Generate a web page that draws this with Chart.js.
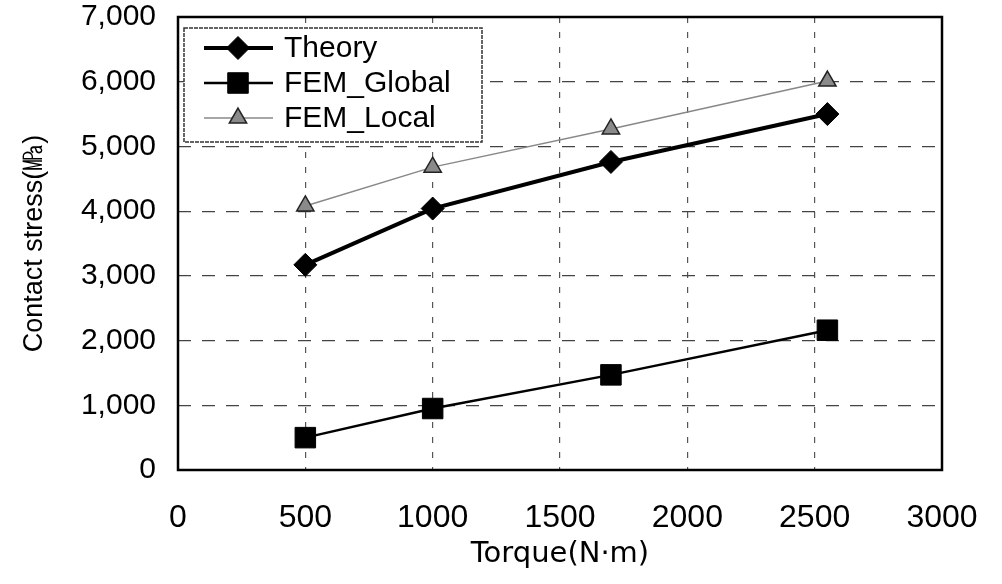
<!DOCTYPE html>
<html>
<head>
<meta charset="utf-8">
<script src="https://cdn.jsdelivr.net/npm/chart.js@4"></script>
<style>
  html, body { margin: 0; padding: 0; background: #fff; }
  #wrap { width: 1002px; height: 584px; }
</style>
</head>
<body>
<div id="wrap"><canvas id="stress-chart" width="1002" height="584"></canvas></div>
<script>
// data
const torque = [500, 1000, 1700, 2550];
const theory = [3170, 4040, 4760, 5500];
const femGlobal = [500, 950, 1470, 2160];
const femLocal = [4080, 4680, 5270, 6010];

const seriesNames = ['Theory', 'FEM_Global', 'FEM_Local'];
const xTickLabels = ['0', '500', '1000', '1500', '2000', '2500', '3000'];
const yTickLabels = ['0', '1,000', '2,000', '3,000', '4,000', '5,000', '6,000', '7,000'];

const toPoints = (ys) => torque.map((x, i) => ({ x: x, y: ys[i] }));

// frame round the plot area + boxed legend inside it
const frameAndLegend = {
    id: 'frameAndLegend',
    afterDraw(chart) {
        const { ctx, chartArea } = chart;
        ctx.save();
        ctx.strokeStyle = '#000';
        ctx.lineWidth = 2.5;
        ctx.setLineDash([]);
        ctx.strokeRect(chartArea.left, chartArea.top, chartArea.right - chartArea.left, chartArea.bottom - chartArea.top);

        const x0 = chartArea.left + 6;
        const y0 = chartArea.top + 11;
        ctx.fillStyle = '#fff';
        ctx.fillRect(x0, y0, 298, 114);
        ctx.strokeStyle = '#333';
        ctx.lineWidth = 1.5;
        ctx.setLineDash([4, 1]);
        ctx.strokeRect(x0, y0, 298, 114);
        ctx.setLineDash([]);

        chart.data.datasets.forEach((ds, i) => {
            const y = y0 + 20 + i * 35;
            ctx.strokeStyle = ds.borderColor;
            ctx.lineWidth = ds.borderWidth;
            ctx.beginPath();
            ctx.moveTo(x0 + 20, y);
            ctx.lineTo(x0 + 89, y);
            ctx.stroke();
            ctx.fillStyle = ds.pointBackgroundColor;
            ctx.strokeStyle = ds.pointBorderColor;
            ctx.lineWidth = ds.pointBorderWidth;
            Chart.helpers.drawPoint(ctx, {
                pointStyle: ds.pointStyle,
                radius: ds.pointRadius,
                borderWidth: ds.pointBorderWidth,
                rotation: 0
            }, x0 + 54, y);
            ctx.fillStyle = '#000';
            ctx.font = '30px "Liberation Sans", Arial, sans-serif';
            ctx.textBaseline = 'middle';
            ctx.textAlign = 'left';
            ctx.fillText(ds.label, x0 + 100, y + 1);
        });
        ctx.restore();
    }
};

new Chart(document.getElementById('stress-chart'), {
    type: 'line',
    data: {
        datasets: [{
            label: seriesNames[0],
            data: toPoints(theory),
            borderColor: '#000',
            borderWidth: 4,
            pointStyle: 'rectRot',
            pointRadius: 11.5,
            pointBackgroundColor: '#000',
            pointBorderColor: '#000',
            pointBorderWidth: 1,
            tension: 0
        }, {
            label: seriesNames[1],
            data: toPoints(femGlobal),
            borderColor: '#000',
            borderWidth: 2.5,
            pointStyle: 'rect',
            pointRadius: 14.5,
            pointBackgroundColor: '#000',
            pointBorderColor: '#000',
            pointBorderWidth: 1,
            tension: 0
        }, {
            label: seriesNames[2],
            data: toPoints(femLocal),
            borderColor: '#888',
            borderWidth: 1.5,
            pointStyle: 'triangle',
            pointRadius: 10,
            pointBackgroundColor: '#8a8a8a',
            pointBorderColor: '#222',
            pointBorderWidth: 1.5,
            tension: 0
        }]
    },
    options: {
        responsive: false,
        devicePixelRatio: 1,
        animation: false,
        layout: {
            padding: { top: 17, right: 60, left: 0, bottom: 0 }
        },
        plugins: {
            legend: { display: false },
            tooltip: { enabled: false }
        },
        scales: {
            x: {
                type: 'linear',
                min: 0,
                max: 3000,
                afterFit: (scale) => {
                    scale.height = 114;
                    scale.paddingLeft = 0;
                    scale.paddingRight = 0;
                },
                ticks: {
                    stepSize: 500,
                    padding: 29,
                    color: '#000',
                    font: { family: '"Liberation Sans", Arial, sans-serif', size: 32 },
                    maxRotation: 0,
                    callback: (value, index) => xTickLabels[index]
                },
                grid: {
                    color: '#555',
                    lineWidth: 1.2,
                    drawTicks: false
                },
                border: { display: false, dash: [6, 9] },
                title: {
                    display: true,
                    text: 'Torque(N·m)',
                    color: '#000',
                    font: { family: '"DejaVu Sans", sans-serif', size: 29 },
                    padding: { top: 0, bottom: 12 }
                }
            },
            y: {
                min: 0,
                max: 7000,
                afterFit: (scale) => {
                    scale.width = 178;
                    scale.paddingTop = 0;
                    scale.paddingBottom = 0;
                },
                ticks: {
                    stepSize: 1000,
                    padding: 22,
                    color: '#000',
                    font: { family: '"Liberation Sans", Arial, sans-serif', size: 30 },
                    callback: (value, index) => yTickLabels[index]
                },
                grid: {
                    color: '#444',
                    lineWidth: 1.2,
                    drawTicks: false
                },
                border: { display: false, dash: [13, 11] },
                title: {
                    display: true,
                    text: 'Contact stress(㎫)',
                    color: '#000',
                    font: { family: '"Liberation Sans", Arial, sans-serif', size: 27 },
                    padding: { top: 18, bottom: 0 }
                }
            }
        }
    },
    plugins: [frameAndLegend]
});
</script>
</body>
</html>
